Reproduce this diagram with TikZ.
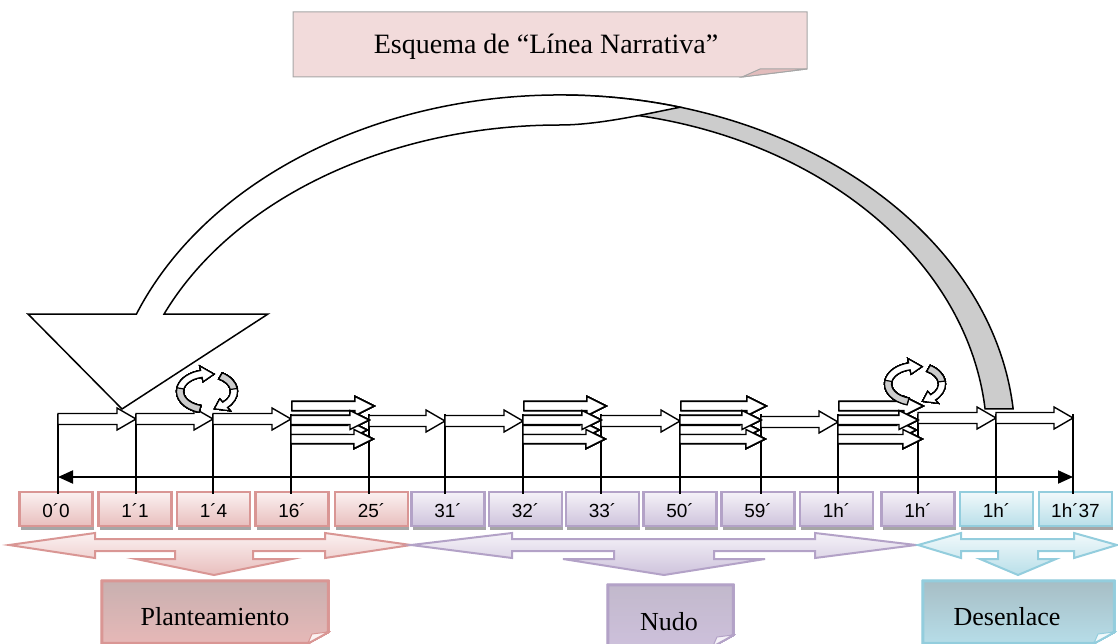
\documentclass[tikz,border=0pt]{standalone}
\usepackage{fontspec}
\setmainfont{Liberation Serif}
\newfontfamily\boxfont{Liberation Sans}
\usetikzlibrary{arrows.meta,shadows}

\definecolor{pinkline}{HTML}{D99694}
\definecolor{pinktop}{HTML}{FBF1F1}
\definecolor{pinkbot}{HTML}{E8BEBD}
\definecolor{pinklabtop}{HTML}{C8B0B0}
\definecolor{pinklabbot}{HTML}{E6B8B7}
\definecolor{purpleline}{HTML}{B3A2C7}
\definecolor{purpletop}{HTML}{F5F2F8}
\definecolor{purplebot}{HTML}{CEC3DC}
\definecolor{purplelabtop}{HTML}{C2B9CC}
\definecolor{purplelabbot}{HTML}{CDC0DB}
\definecolor{cyanline}{HTML}{93CDDD}
\definecolor{cyantop}{HTML}{F1F9FB}
\definecolor{cyanbot}{HTML}{B9DFE9}
\definecolor{cyanlabtop}{HTML}{A7BEC5}
\definecolor{cyanlabbot}{HTML}{B6DDE8}
\definecolor{titlefill}{HTML}{F2DBDB}
\definecolor{titlefold}{HTML}{E2BCBC}
\definecolor{titleline}{HTML}{A6A6A6}
\definecolor{backgrey}{HTML}{CCCCCC}

\tikzset{
  blockar/.style={draw=black, line width=1.4pt, fill=white, line join=miter},
  bigar/.style={draw=black, line width=1.5pt, fill=white, line join=miter},
  loopband/.style={draw=black, line width=1.2pt, fill=white},
  tickline/.style={draw=black, line width=1.4pt},
  axisline/.style={draw=black, line width=2pt,
    {Triangle[length=15pt,width=13pt]}-{Triangle[length=15pt,width=13pt]}},
  tbox/.style={draw=#1line, line width=2.5pt, top color=#1top, bottom color=#1bot,
    minimum width=73pt, minimum height=34pt, inner sep=0pt,
    font=\boxfont\fontsize{19}{22}\selectfont,
    drop shadow={shadow xshift=1pt, shadow yshift=-3.5pt, fill=black, opacity=.35}},
  sidearrow/.style={draw=#1line, line width=2pt, top color=#1top, bottom color=#1bot,
    line join=miter},
  labelbox/.style={draw=#1line, line width=2.5pt, top color=#1labtop, bottom color=#1labbot},
  labelfold/.style={draw=#1line, line width=1pt, fill=#1top},
  titlebox/.style={draw=titleline, line width=1pt, fill=titlefill},
  labeltext/.style={font=\fontsize{26}{30}\selectfont, inner sep=0pt},
  titletext/.style={font=\fontsize{28}{32}\selectfont, inner sep=0pt}
}

% block arrow: x start, x tip, y, shaft half, head half
\newcommand{\timearrow}[5]{%
  \filldraw[blockar] (#1,#3-#4) -- (#2-19,#3-#4) -- (#2-19,#3-#5) -- (#2,#3)
    -- (#2-19,#3+#5) -- (#2-19,#3+#4) -- (#1,#3+#4) -- cycle;}

% left-right-down arrow: x left, x right, x down, head length, shaft half, head half, colour
\newcommand{\lrdarrow}[7]{%
  \filldraw[sidearrow=#7] (#1,545) -- (#1+#4,533) -- (#1+#4,539) -- (#2-#4,539)
    -- (#2-#4,533) -- (#2,545) -- (#2-#4,558) -- (#2-#4,551) -- (#3+#5,551)
    -- (#3+#5,559) -- (#3+#6,559) -- (#3,575) -- (#3-#6,559) -- (#3-#5,559)
    -- (#3-#5,551) -- (#1+#4,551) -- (#1+#4,558) -- cycle;}

% pair of circular arrows
\newcommand{\looparrow}[2]{%
  \begin{scope}[shift={(#1,#2)}]
    \filldraw[loopband] (105:30.5 and 21.5) arc[start angle=105, end angle=258, x radius=30.5, y radius=21.5]
      -- (258:35 and 26) -- (285:27 and 18) -- (258:19 and 10) -- (258:23.5 and 14.5)
      arc[start angle=258, end angle=105, x radius=23.5, y radius=14.5] -- cycle;
    \filldraw[loopband, fill=backgrey] (105:30.5 and 21.5) arc[start angle=105, end angle=190, x radius=30.5, y radius=21.5]
      -- (190:23.5 and 14.5) arc[start angle=190, end angle=105, x radius=23.5, y radius=14.5] -- cycle;
    \filldraw[loopband] (300:30.5 and 21.5) arc[start angle=300, end angle=408, x radius=30.5, y radius=21.5]
      -- (408:35 and 26) -- (434:27 and 18) -- (408:19 and 10) -- (408:23.5 and 14.5)
      arc[start angle=408, end angle=300, x radius=23.5, y radius=14.5] -- cycle;
    \filldraw[loopband, fill=backgrey] (300:30.5 and 21.5) arc[start angle=300, end angle=352, x radius=30.5, y radius=21.5]
      -- (352:23.5 and 14.5) arc[start angle=352, end angle=300, x radius=23.5, y radius=14.5] -- cycle;
  \end{scope}}

% note with folded corner: x1, y1, x2, y2, colour
\newcommand{\foldbox}[5]{%
  \filldraw[labelbox=#5] (#1,#2) -- (#3,#2) -- (#3,#4-11) -- (#3-20,#4) -- (#1,#4) -- cycle;
  \filldraw[labelfold=#5] (#3-20,#4) -- (#3-16,#4-9) -- (#3,#4-11) -- cycle;}

\begin{document}
\begin{tikzpicture}[x=1pt,y=-1pt]
\useasboundingbox (0,0) rectangle (1118,644);
%----------------------------------
\filldraw[titlebox] (293,12) -- (807,12) -- (807,69) -- (742,77) -- (293,77) -- cycle;
\filldraw[titlebox, fill=titlefold] (742,77) -- (760,69) -- (807,69) -- cycle;
\node[titletext] (title) at (546,47) {Esquema de “Línea Narrativa”};
%----------------------------------
\begin{scope}[shift={(560,440)}]
  \filldraw[bigar, fill=backgrey] (270:455 and 345)
    arc[start angle=270, end angle=354.84, x radius=455, y radius=345]
    -- (354.6:427 and 330)
    arc[start angle=354.6, end angle=270, x radius=427, y radius=330] -- cycle;
  \filldraw[bigar] (201.4:455 and 345)
    arc[start angle=201.4, end angle=285.3, x radius=455, y radius=345]
    .. controls (90,-327) and (40,-315) .. (270:432 and 315)
    arc[start angle=270, end angle=203.58, x radius=432, y radius=315]
    -- (-292,-126) -- (-438,-31) -- (-532,-126) -- cycle;
\end{scope}
%----------------------------------
\lrdarrow{9}{411}{214}{86}{39}{78}{pink}
\lrdarrow{411}{916}{664}{101}{50}{101}{purple}
\lrdarrow{918}{1117}{1018}{43}{20}{38}{cyan}
%----------------------------------
\foreach \x/\t/\c [count=\i from 0] in {56/0´0/pink, 135/1´1/pink, 213.5/1´4/pink,
    292/16´/pink, 371.5/25´/pink, 448/31´/purple, 525.5/32´/purple, 602.5/33´/purple,
    680/50´/purple, 758/59´/purple, 836.5/1h´/purple, 918/1h´/purple,
    996.5/1h´/cyan, 1075.5/1h´37/cyan}
  \node[tbox=\c] (b\i) at (\x,509) {\raisebox{-8pt}[0pt][0pt]{\t}};
%----------------------------------
\foreach \x [count=\i from 0] in {58,136,213,291,369,445,523,601,680,761,838,918,996,1073} {
  \coordinate (k\i) at (\x,477);
  \draw[tickline] (\x,414) -- (\x,494);
}
\draw[axisline] (k0) -- (k13);
%----------------------------------
\foreach \a/\b/\y in {58/136/419, 136/213/419, 213/291/419, 369/445/421, 445/523/421,
    601/680/421, 761/838/422, 918/996/418, 996/1073/418}
  \timearrow{\a}{\b}{\y}{5.5}{11}
\foreach \t/\n in {291/369, 523/601, 680/761, 838/918} {
  \timearrow{\t+1}{\n+5}{406}{4.5}{9.5}
  \timearrow{\t}{\n-2}{430}{4.5}{9.5}
  \timearrow{\t}{\n+4}{439}{4.5}{9.5}
  \timearrow{\t}{\n}{420}{4.5}{9.5}
}
%----------------------------------
\looparrow{207}{391.5}
\looparrow{915}{384}
%----------------------------------
\foldbox{102}{581}{328}{643}{pink}
\foldbox{608}{585}{733}{646}{purple}
\foldbox{923}{581}{1114}{643}{cyan}
\node[labeltext] (plant) at (215,617) {Planteamiento};
\node[labeltext] (nudo) at (669,622) {Nudo};
\node[labeltext] (desen) at (1007,617) {Desenlace};
\end{tikzpicture}
\end{document}
